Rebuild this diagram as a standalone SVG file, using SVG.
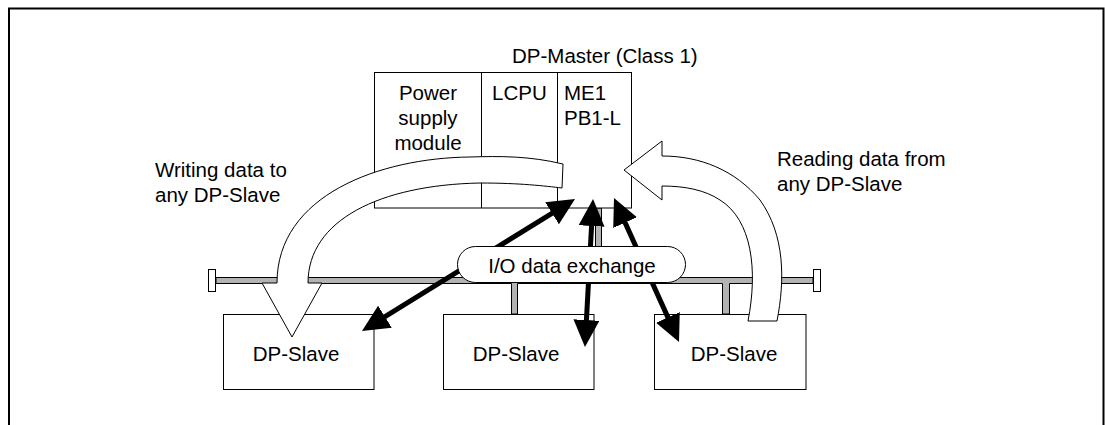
<svg xmlns="http://www.w3.org/2000/svg" width="1105" height="425" viewBox="0 0 1105 425">
<style>
text{font-family:"Liberation Sans",Arial,sans-serif;font-size:20.5px;fill:#000}
.box{fill:#fff;stroke:#000;stroke-width:1}
.c{text-anchor:middle}
.big{fill:#fff;stroke:#000;stroke-width:1;stroke-linejoin:miter}
.ln{stroke:#000;stroke-width:5;fill:none}
</style>
<defs>
<marker id="ah" viewBox="0 0 27 26" refX="17" refY="13" markerWidth="27" markerHeight="26" markerUnits="userSpaceOnUse" orient="auto-start-reverse">
<path d="M0,0 L27,13 L0,26 Z" fill="#000"/>
</marker>
</defs>
<rect width="1105" height="425" fill="#fff"/>
<path d="M9,425 V8.5 H1103.5 V425" fill="none" stroke="#000" stroke-width="2"/>

<g id="bus">
<path d="M216,277.5 H595.5 V208 H601.5 V277.5 H813 V283.5 H729.5 V314 H722.5 V283.5 H517.5 V314 H511.5 V283.5 H216 Z" fill="#b3b3b3" stroke="#000" stroke-width="1"/>
<rect x="208.5" y="269.5" width="7" height="22" class="box"/>
<rect x="813.5" y="269.5" width="7" height="22" class="box"/>
</g>

<g id="master">
<rect x="374.5" y="72.5" width="257" height="135.5" class="box"/>
<line x1="481.5" y1="72.5" x2="481.5" y2="208" stroke="#000"/>
<line x1="557.5" y1="72.5" x2="557.5" y2="208" stroke="#000"/>
<text x="512" y="63">DP-Master (Class 1)</text>
<text x="428" y="100" class="c">Power</text>
<text x="428" y="125" class="c">supply</text>
<text x="428" y="150" class="c">module</text>
<text x="492" y="100">LCPU</text>
<text x="564" y="100">ME1</text>
<text x="564" y="125">PB1-L</text>
</g>

<g id="slave1">
<rect x="223.5" y="314.5" width="150.5" height="75" class="box"/>
<text x="296" y="361" class="c">DP-Slave</text>
</g>
<g id="slave2">
<rect x="443.5" y="314.5" width="150.5" height="75" class="box"/>
<text x="516" y="361" class="c">DP-Slave</text>
</g>
<g id="slave3">
<rect x="654.5" y="314.5" width="151.5" height="75" class="box"/>
<text x="734" y="361" class="c">DP-Slave</text>
</g>

<g id="connectors">
<line x1="370.5" y1="325.7" x2="566.5" y2="204.3" class="ln" marker-start="url(#ah)" marker-end="url(#ah)"/>
<line x1="585.5" y1="337" x2="592.5" y2="209" class="ln" marker-start="url(#ah)" marker-end="url(#ah)"/>
<line x1="618.1" y1="207.1" x2="674.9" y2="332.9" class="ln" marker-start="url(#ah)" marker-end="url(#ah)"/>
</g>

<g id="io">
<rect x="457.5" y="246.5" width="228" height="36" rx="18" class="box"/>
<text x="572" y="273" class="c">I/O data exchange</text>
</g>

<g id="write">
<path class="big" d="M563,164 C530,156 500,156 470,157 C380,158 277,195 277,283 L262,283 L292,337 L322,283 L308,283 C308,220 380,185 480,183 C520,183 545,186 562,188 Z"/>
<text x="155" y="177">Writing data to</text>
<text x="155" y="202">any DP-Slave</text>
</g>

<g id="read">
<path class="big" d="M748,321 C758,270 752,220 720,200 C705,190 685,186 662,186 L662,200 L624,170 L662,141 L662,156 C700,156 735,170 760,200 C785,235 785,280 777,321 Z"/>
<text x="777" y="166">Reading data from</text>
<text x="777" y="191">any DP-Slave</text>
</g>
</svg>
